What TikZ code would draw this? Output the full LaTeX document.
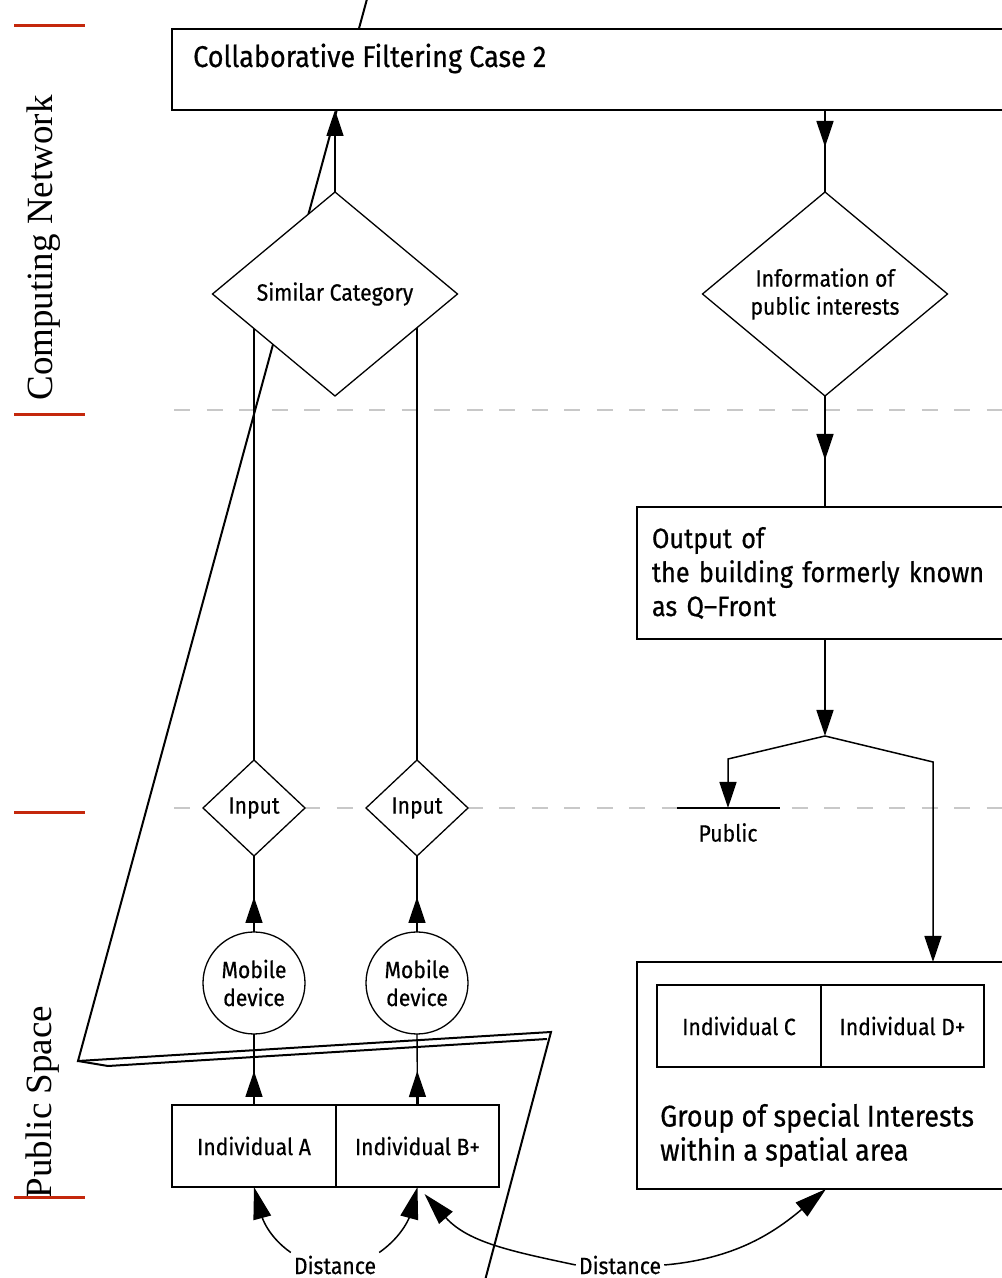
\documentclass[tikz,border=0pt]{standalone}
\usepackage{fontspec}
\setmainfont{Liberation Serif}
\newfontfamily\isofont[FakeStretch=0.9, FakeBold=0.5]{Fira Sans}
\usetikzlibrary{arrows.meta,positioning,shapes.geometric,decorations.markings,backgrounds,calc}

\definecolor{lanered}{RGB}{196,40,12}
\definecolor{guidegray}{RGB}{200,200,200}

\begin{document}
\begin{tikzpicture}[
    x=1pt, y=1pt,
    font=\isofont\fontsize{23.5}{28}\selectfont,
    block/.style={draw, line width=1.3pt, fill=white, inner sep=0pt, outer sep=0pt},
    cell/.style={block, minimum width=164pt, minimum height=82pt},
    choice/.style={draw, line width=1.3pt, fill=white, diamond, inner sep=0pt, outer sep=0pt, align=center},
    device/.style={draw, line width=1.3pt, fill=white, circle, minimum size=102pt, inner sep=0pt, outer sep=0pt, align=center},
    bigtext/.style={font=\isofont\fontsize{30}{34}\selectfont, inner sep=0pt},
    outbox/.style={block, font=\isofont\fontsize{28}{34}\selectfont, align=left, text width=372pt, inner xsep=15pt, minimum height=132pt},
    lane/.style={font=\rmfamily\fontsize{37}{40}\selectfont, rotate=90, anchor=base, inner sep=0pt},
    laneline/.style={draw=lanered, line width=3pt},
    guide/.style={draw=guidegray, line width=1.3pt, dash pattern=on 16pt off 16.5pt},
    dist/.style={inner sep=3pt},
    line/.style={-{Triangle[length=26pt, width=17pt]}, line width=1.5pt},
    midline/.style={draw, line width=1.4pt, postaction={decorate}, decoration={markings,
        mark=at position 0pt with {\draw[line width=2.8pt] (0pt,0pt) -- ({#1-24pt},0pt);},
        mark=at position #1 with {\arrow{Triangle[length=26pt, width=17pt]}}}},
    distline/.style={line width=1.5pt, -{Triangle[length=32pt, width=18pt]}},
    stray/.style={line width=2pt, line join=miter}
]
    \useasboundingbox (0,0) rectangle (1002,1278);
    \clip (0,0) rectangle (1002,1278);

    % lanes on the left
    \node[lane] (netlbl) at (52,1030) {Computing Network};
    \node[lane] (publbl) at (51,176) {Public Space};
    \foreach \y in {1252,863,465,80}
        \draw[laneline] (14,\y) -- (85,\y);

    % network side
    \node[block, anchor=north west, minimum width=850pt, minimum height=81pt] (cf) at (172,1249) {};
    \node[bigtext, anchor=base west] (cftext) at (193,1211) {Collaborative Filtering Case 2};
    \node[choice, minimum width=245pt, minimum height=204pt] (simcat) at (335,984) {Similar Category};
    \node[choice, minimum width=245pt, minimum height=204pt] (info) at (825,984) {Information of\\public interests};
    \node[outbox, anchor=north west] (out) at (637,771) {Output of\\the building formerly known\\as Q–Front};
    \coordinate (split) at (825,542);
    \coordinate (pubin) at (728,470);
    \node[below=15pt of pubin, inner sep=0pt] (public) {Public};

    % public side
    \node[choice, minimum width=102pt, minimum height=96pt] (inA) at (254,470) {Input};
    \node[choice, minimum width=102pt, minimum height=96pt, right=61pt of inA] (inB) {Input};
    \node[device, below=76pt of inA] (mobA) {Mobile\\device};
    \node[device, below=76pt of inB] (mobB) {Mobile\\device};
    \node[cell, below=71pt of mobA] (indA) {Individual A};
    \node[cell, right=0pt of indA, minimum width=163pt] (indB) {Individual B+};

    \node[block, anchor=north, minimum width=378pt, minimum height=227pt] (grp) at (826,316) {};
    \node[cell, anchor=north west] (indC) at ([shift={(20pt,-23pt)}]grp.north west) {Individual C};
    \node[cell, right=0pt of indC, minimum width=163pt] (indD) {Individual D+};
    \node[bigtext, anchor=west, align=left] (grptext) at (660,143) {Group of special Interests\\within a spatial area};

    \node[dist] (distL) at (335,13) {Distance};
    \node[dist] (distR) at (620,13) {Distance};

    \begin{scope}[on background layer]
        \draw[guide] (174,868) -- (1002,868);
        \draw[guide] (174,470) -- (1002,470);
        \draw[stray] (370,1290) -- (78,217) -- (551,246) -- (483,-10);
        \draw[stray] (78,217) -- (108,212) -- (547,239);
        \draw[line width=1.3pt] (inA.north) -- (inA.north |- simcat.center);
        \draw[line width=1.3pt] (inB.north) -- (inB.north |- simcat.center);
    \end{scope}

    \draw[line width=1.3pt] ([xshift=-51pt]pubin) -- ([xshift=52pt]pubin);

    \draw[line] (simcat.north) -- (simcat.north |- cf.south);
    \draw[midline=37pt] (cf.south -| info.north) -- (info.north);
    \draw[midline=64pt] (info.south) -- (info.south |- out.north);
    \draw[line] (info.south |- out.south) -- (split);
    \draw[line] (split) -- ++(-97,-23) -- (pubin);
    \draw[line] (split) -- ++(108,-26) coordinate (bend) -- (bend |- grp.north);

    \draw[midline=35pt] (mobA.north) -- (inA.south);
    \draw[midline=35pt] (mobB.north) -- (inB.south);
    \draw[midline=34pt] (indA.north) -- (mobA.south);
    \draw[midline=34pt] (indB.north) -- (mobB.south);

    \draw[distline] (distL.north west) to[out=145, in=-75] (indA.south);
    \draw[distline] (distL.north east) to[out=35, in=-105] (indB.south);
    \draw[distline] (distR.west) to[out=168, in=-48] ([shift={(7pt,-7pt)}]indB.south);
    \draw[distline] (distR.east) to[out=5, in=-140] (grp.south);
\end{tikzpicture}
\end{document}
